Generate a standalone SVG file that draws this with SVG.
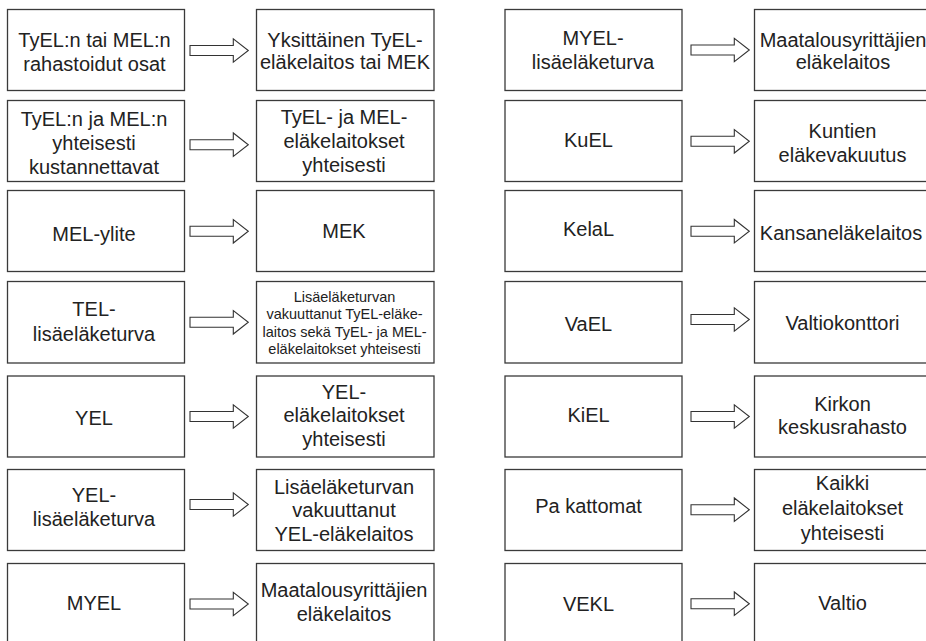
<svg xmlns="http://www.w3.org/2000/svg" xmlns:xlink="http://www.w3.org/1999/xlink" width="926" height="641" viewBox="0 0 926 641">
<style>
.box{fill:#fff;stroke:#3a3a3a;stroke-width:1.3}
.t{font-family:"Liberation Sans",Arial,sans-serif;font-size:20px;fill:#222;text-anchor:middle}
.s{font-family:"Liberation Sans",Arial,sans-serif;font-size:14.5px;fill:#222;text-anchor:middle}
.arr{fill:#fff;stroke:#333;stroke-width:1.1;stroke-linejoin:miter}
</style>
<defs>
<path id="a" d="M0,-5 L43.3,-5 L43.3,-11.7 L58.3,0 L43.3,11.7 L43.3,5 L0,5 Z"/>
</defs>
<rect width="926" height="641" fill="#fff"/>
<g id="connectors" class="arr">
<use xlink:href="#a" x="190" y="50.5"/>
<use xlink:href="#a" x="190" y="144.7"/>
<use xlink:href="#a" x="190" y="231.3"/>
<use xlink:href="#a" x="190" y="322.3"/>
<use xlink:href="#a" x="190" y="416.5"/>
<use xlink:href="#a" x="190" y="504.5"/>
<use xlink:href="#a" x="190" y="604"/>
<use xlink:href="#a" x="691" y="50"/>
<use xlink:href="#a" x="691" y="141.3"/>
<use xlink:href="#a" x="691" y="231.2"/>
<use xlink:href="#a" x="691" y="319.5"/>
<use xlink:href="#a" x="691" y="416.5"/>
<use xlink:href="#a" x="691" y="509.7"/>
<use xlink:href="#a" x="691" y="603.7"/>
</g>
<!-- Left column sources -->
<g id="n1"><rect class="box" x="7.5" y="9.5" width="177" height="81"/><text class="t"><tspan x="94.5" y="47">TyEL:n tai MEL:n</tspan><tspan x="94.5" y="70.5">rahastoidut osat</tspan></text></g>
<g id="n2"><rect class="box" x="7.5" y="100.5" width="177" height="81"/><text class="t"><tspan x="94" y="126">TyEL:n ja MEL:n</tspan><tspan x="94" y="149.5">yhteisesti</tspan><tspan x="94" y="173.5">kustannettavat</tspan></text></g>
<g id="n3"><rect class="box" x="7.5" y="190.5" width="177" height="81"/><text class="t" x="94" y="240.5">MEL-ylite</text></g>
<g id="n4"><rect class="box" x="7.5" y="281.5" width="177" height="81.5"/><text class="t"><tspan x="94" y="315.5">TEL-</tspan><tspan x="94" y="341">lisäeläketurva</tspan></text></g>
<g id="n5"><rect class="box" x="7.5" y="376" width="177" height="81"/><text class="t" x="94" y="424.5">YEL</text></g>
<g id="n6"><rect class="box" x="7.5" y="469.5" width="177" height="81"/><text class="t"><tspan x="94" y="501.5">YEL-</tspan><tspan x="94" y="525.5">lisäeläketurva</tspan></text></g>
<g id="n7"><rect class="box" x="7.5" y="563.5" width="177" height="81"/><text class="t" x="94" y="610">MYEL</text></g>
<!-- Left column targets -->
<g id="m1"><rect class="box" x="256.5" y="9.5" width="177.5" height="81"/><text class="t"><tspan x="345" y="46.5">Yksittäinen TyEL-</tspan><tspan x="345" y="69">eläkelaitos tai MEK</tspan></text></g>
<g id="m2"><rect class="box" x="256.5" y="100.5" width="177.5" height="81"/><text class="t"><tspan x="344" y="123.5">TyEL- ja MEL-</tspan><tspan x="344" y="147.5">eläkelaitokset</tspan><tspan x="344" y="171.5">yhteisesti</tspan></text></g>
<g id="m3"><rect class="box" x="256.5" y="190.5" width="177.5" height="81"/><text class="t" x="344" y="237.5">MEK</text></g>
<g id="m4"><rect class="box" x="256.5" y="281.5" width="177.5" height="81.5"/><text class="s"><tspan x="344.5" y="301.5">Lisäeläketurvan</tspan><tspan x="344.5" y="319">vakuuttanut TyEL-eläke-</tspan><tspan x="344.5" y="336.5">laitos sekä TyEL- ja MEL-</tspan><tspan x="344.5" y="354">eläkelaitokset yhteisesti</tspan></text></g>
<g id="m5"><rect class="box" x="256.5" y="376" width="177.5" height="81"/><text class="t"><tspan x="344" y="398.5">YEL-</tspan><tspan x="344" y="422.3">eläkelaitokset</tspan><tspan x="344" y="446">yhteisesti</tspan></text></g>
<g id="m6"><rect class="box" x="256.5" y="469.5" width="177.5" height="81"/><text class="t"><tspan x="344" y="493.5">Lisäeläketurvan</tspan><tspan x="344" y="517.3">vakuuttanut</tspan><tspan x="344" y="541">YEL-eläkelaitos</tspan></text></g>
<g id="m7"><rect class="box" x="256.5" y="563.5" width="177.5" height="81"/><text class="t"><tspan x="344" y="596.7">Maatalousyrittäjien</tspan><tspan x="344" y="620.5">eläkelaitos</tspan></text></g>
<!-- Right column sources -->
<g id="n8"><rect class="box" x="505" y="9.5" width="177" height="81"/><text class="t"><tspan x="593" y="45">MYEL-</tspan><tspan x="593" y="68.5">lisäeläketurva</tspan></text></g>
<g id="n9"><rect class="box" x="505" y="100.5" width="177" height="81"/><text class="t" x="588.5" y="146.5">KuEL</text></g>
<g id="n10"><rect class="box" x="505" y="190.5" width="177" height="81"/><text class="t" x="588.5" y="236">KelaL</text></g>
<g id="n11"><rect class="box" x="505" y="281.5" width="177" height="81.5"/><text class="t" x="588.5" y="331">VaEL</text></g>
<g id="n12"><rect class="box" x="505" y="376" width="177" height="81"/><text class="t" x="588.5" y="421.5">KiEL</text></g>
<g id="n13"><rect class="box" x="505" y="469.5" width="177" height="81"/><text class="t" x="588.5" y="513.3">Pa kattomat</text></g>
<g id="n14"><rect class="box" x="505" y="563.5" width="177" height="81"/><text class="t" x="588.5" y="610.5">VEKL</text></g>
<!-- Right column targets -->
<g id="m8"><rect class="box" x="754.5" y="9.5" width="177" height="81"/><text class="t"><tspan x="843" y="46.5">Maatalousyrittäjien</tspan><tspan x="843" y="69">eläkelaitos</tspan></text></g>
<g id="m9"><rect class="box" x="754.5" y="100.5" width="177" height="81"/><text class="t"><tspan x="842.5" y="138.3">Kuntien</tspan><tspan x="842.5" y="162.3">eläkevakuutus</tspan></text></g>
<g id="m10"><rect class="box" x="754.5" y="190.5" width="177" height="81"/><text class="t" x="841" y="240">Kansaneläkelaitos</text></g>
<g id="m11"><rect class="box" x="754.5" y="281.5" width="177" height="81.5"/><text class="t" x="842.5" y="330">Valtiokonttori</text></g>
<g id="m12"><rect class="box" x="754.5" y="376" width="177" height="81"/><text class="t"><tspan x="842.5" y="411">Kirkon</tspan><tspan x="842.5" y="434.3">keskusrahasto</tspan></text></g>
<g id="m13"><rect class="box" x="754.5" y="469.5" width="177" height="81"/><text class="t"><tspan x="842.5" y="490">Kaikki</tspan><tspan x="842.5" y="515">eläkelaitokset</tspan><tspan x="842.5" y="539.5">yhteisesti</tspan></text></g>
<g id="m14"><rect class="box" x="754.5" y="563.5" width="177" height="81"/><text class="t" x="842.5" y="610">Valtio</text></g>
</svg>
